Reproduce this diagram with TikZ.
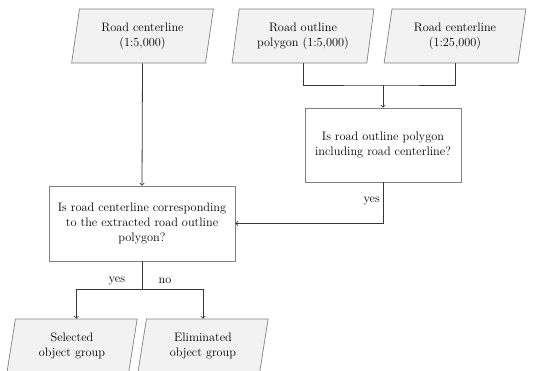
\documentclass[tikz,border=0pt]{standalone}
\usepackage{xcolor}
\usepackage{tikz}
\usetikzlibrary{shapes.geometric,arrows}
\definecolor{boxline}{RGB}{128,128,128}
\definecolor{boxfill}{RGB}{242,242,242}
\definecolor{arrline}{RGB}{55,55,55}
\tikzset{
  data/.style={trapezium, trapezium left angle=80, trapezium right angle=100,
    trapezium stretches=true, draw=boxline, fill=boxfill, line width=0.7pt,
    minimum width=142pt, minimum height=54pt, align=center, inner sep=2pt,
    font=\fontsize{12.3}{15}\selectfont},
  decide/.style={rectangle, draw=boxline, line width=0.7pt, align=center,
    inner sep=2pt, font=\fontsize{12.3}{15}\selectfont},
  arr/.style={-to, draw=arrline, line width=0.8pt},
  lbl/.style={font=\fontsize{12.3}{15}\selectfont, inner sep=1pt},
}

\begin{document}
\begin{tikzpicture}[x=1pt,y=-1pt]
        \useasboundingbox (0,0) rectangle (556,371);

        \node[data] (cl5) at (142.5,36) {Road centerline\\(1:5,000)};
        \node[data] (poly) at (303,36) {Road outline\\polygon (1:5,000)};
        \node[data] (cl25) at (455,36) {Road centerline\\(1:25,000)};

        \node[decide, minimum width=156pt, minimum height=74pt] (incl) at (383,145)
          {Is road outline polygon\\including road centerline?};
        \node[decide, minimum width=186pt, minimum height=75pt] (corr) at (142,223.5)
          {Is road centerline corresponding\\to the extracted road outline\\polygon?};

        \node[data, minimum width=131pt] (sel) at (72,346) {Selected\\object group};
        \node[data, minimum width=131pt] (elim) at (203,346) {Eliminated\\object group};

        \draw[arrline, line width=0.8pt] (poly.south) |- (383,85) coordinate (join) -| (cl25.south);
        \draw[arr] (join) -- (incl.north);
        \draw[arr] (cl5.south) -- (corr.north);
        \draw[arr] (incl.south) |- (corr.east);
        \node[lbl, anchor=east] at (381,201) {yes};

        \draw[arrline, line width=0.8pt] (corr.south) -- (142,289) coordinate (split);
        \draw[arr] (split) -| (sel.top side);
        \draw[arr] (split) -| (elim.north);
        \node[lbl] at (117,281) {yes};
        \node[lbl] at (165,281) {no};
    \end{tikzpicture}
\end{document}
